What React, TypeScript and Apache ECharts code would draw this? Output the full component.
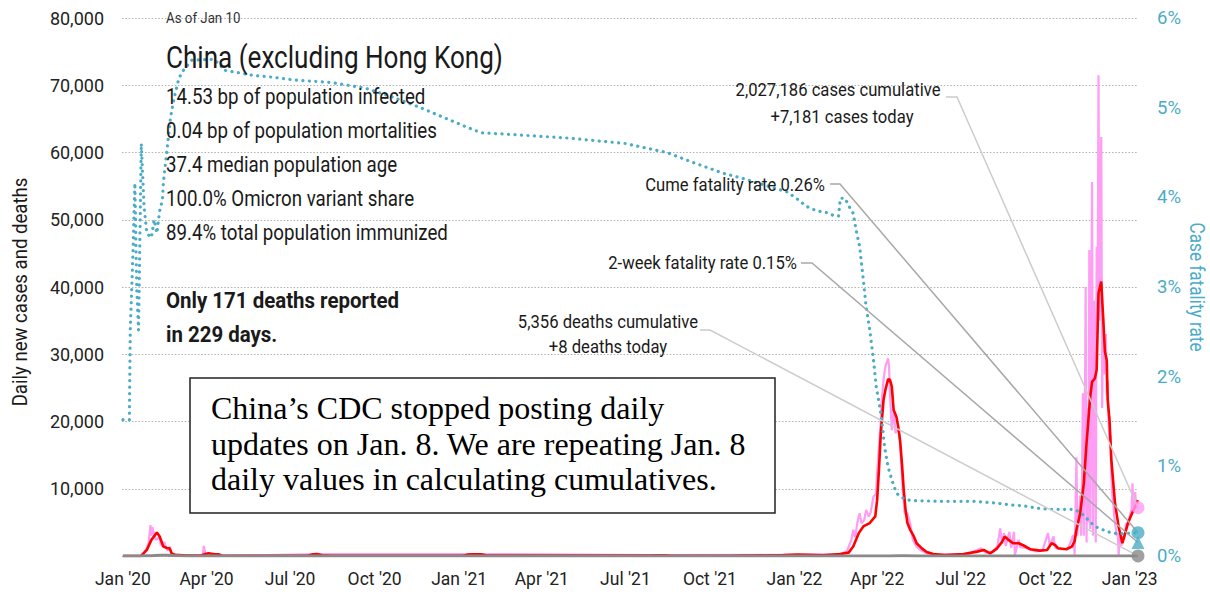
import React, { useEffect, useRef } from "react";
import * as echarts from "echarts";

// ---------- axis ticks ----------
const xTickDates = ["2020-01-01","2020-04-01","2020-07-01","2020-10-01","2021-01-01","2021-04-01","2021-07-01","2021-10-01","2022-01-01","2022-04-01","2022-07-01","2022-10-01","2023-01-01"];
const xTickLabels = ["Jan '20","Apr '20","Jul '20","Oct '20","Jan '21","Apr '21","Jul '21","Oct '21","Jan '22","Apr '22","Jul '22","Oct '22","Jan '23"];
const FIRST_DATE = "2020-01-01";
const LAST_DATE = "2023-01-10";

// ---------- headline numbers ----------
const casesCumulative = 2027186;
const casesToday = 7181;
const deathsCumulative = 5356;
const deathsToday = 8;
const cumeFatalityRate = 0.26;
const twoWeekFatalityRate = 0.15;
const deathsReported = 171;
const daysCount = 229;
const statLines = [
  "14.53 bp of population infected",
  "0.04 bp of population mortalities",
  "37.4 median population age",
  "100.0% Omicron variant share",
  "89.4% total population immunized",
];
const boxLines = [
  "China\u2019s CDC stopped posting daily",
  "updates on Jan. 8. We are repeating Jan. 8",
  "daily values in calculating cumulatives.",
];

// ---------- series: daily new cases (pink) ----------
const dailyCases: [string, number][] = [
  ["2020-01-01",0],["2020-01-20",0],["2020-01-24",400],["2020-01-27",1200],["2020-01-29",2000],["2020-01-31",4600],["2020-02-01",3000],["2020-02-02",4300],["2020-02-04",3200],["2020-02-06",2400],["2020-02-08",2600],["2020-02-10",2900],["2020-02-11",1800],["2020-02-13",1500],["2020-02-15",2100],["2020-02-17",1200],["2020-02-19",800],["2020-02-21",1400],["2020-02-23",300],["2020-02-27",200],["2020-03-05",100],["2020-03-20",50],["2020-03-28",100],["2020-03-29",1500],["2020-03-31",200],["2020-04-10",100],["2020-04-20",20],
  ["2020-07-30",300],["2021-01-12",300],["2021-08-05",150],["2022-01-10",200],
  ["2022-02-20",300],["2022-02-27",700],["2022-03-04",2400],["2022-03-06",3900],["2022-03-08",2800],["2022-03-11",5350],["2022-03-13",6350],["2022-03-15",4860],["2022-03-18",5350],["2022-03-20",6840],["2022-03-23",5850],["2022-03-25",6500],["2022-03-28",8820],["2022-03-31",9320],["2022-04-01",12300],["2022-04-03",16250],["2022-04-05",20200],["2022-04-06",23200],["2022-04-08",26200],["2022-04-10",28150],["2022-04-13",29400],["2022-04-14",28150],["2022-04-15",24200],["2022-04-17",18700],["2022-04-19",21700],["2022-04-21",18250],["2022-04-24",19200],["2022-04-26",16750],["2022-04-29",9800],["2022-05-01",6350],["2022-05-04",6350],["2022-05-07",4860],["2022-05-10",2380],["2022-05-14",1380],["2022-05-18",900],["2022-05-25",400],["2022-06-05",200],
  ["2022-07-10",300],["2022-07-19",900],["2022-07-23",1150],["2022-07-28",500],["2022-08-05",600],["2022-08-10",1500],["2022-08-13",4100],["2022-08-15",1800],["2022-08-17",3400],["2022-08-19",1500],["2022-08-23",3600],["2022-08-25",1200],["2022-08-28",3600],["2022-08-29",100],["2022-09-02",2400],["2022-09-04",1300],["2022-09-10",1200],["2022-09-20",700],["2022-09-28",800],["2022-10-04",3400],["2022-10-06",1600],["2022-10-10",2900],["2022-10-12",1200],["2022-10-18",1000],["2022-10-25",1100],["2022-10-27",1500],["2022-10-30",2500],["2022-10-31",3000],
  ["2022-11-01",3000],["2022-11-02",200],["2022-11-03",6800],["2022-11-04",14700],["2022-11-05",3000],["2022-11-06",7000],["2022-11-07",5000],["2022-11-08",9000],["2022-11-09",3000],["2022-11-10",11000],["2022-11-11",24200],["2022-11-12",3000],["2022-11-13",16000],["2022-11-14",40000],["2022-11-15",2000],["2022-11-16",22000],["2022-11-17",5000],["2022-11-18",45500],["2022-11-19",4000],["2022-11-20",30000],["2022-11-21",55600],["2022-11-22",3000],["2022-11-23",38000],["2022-11-24",29000],["2022-11-25",2000],["2022-11-26",46000],["2022-11-27",33000],["2022-11-28",71500],["2022-11-29",35000],["2022-11-30",50000],["2022-12-01",62300],["2022-12-02",22000],["2022-12-03",36000],["2022-12-04",31000],["2022-12-05",27000],["2022-12-06",33000],["2022-12-07",24000],["2022-12-08",26000],["2022-12-09",20000],["2022-12-10",17000],["2022-12-11",18000],["2022-12-12",12000],["2022-12-13",9000],["2022-12-14",8000],["2022-12-15",6000],["2022-12-16",5000],["2022-12-17",4000],["2022-12-18",3000],["2022-12-19",3400],["2022-12-20",0],["2022-12-21",3000],["2022-12-22",2000],["2022-12-23",1500],["2022-12-24",2500],["2022-12-25",3000],["2022-12-26",2500],["2022-12-27",3500],["2022-12-28",4900],["2022-12-29",4000],["2022-12-30",5000],["2022-12-31",4500],["2023-01-01",6000],["2023-01-02",6500],["2023-01-03",7000],["2023-01-04",10800],["2023-01-05",7000],["2023-01-06",8000],["2023-01-07",9500],["2023-01-08",7181],["2023-01-09",7181],["2023-01-10",7181],
];

// ---------- series: 7-day average of new cases (red) ----------
const avgCases: [string, number][] = [
  ["2020-01-01",0],["2020-01-20",0],["2020-01-21",50],["2020-01-27",900],["2020-02-01",2400],["2020-02-07",3500],["2020-02-10",2900],["2020-02-14",1400],["2020-02-18",1200],["2020-02-21",1100],["2020-02-23",400],["2020-02-27",150],["2020-03-03",150],["2020-03-09",50],["2020-03-25",50],["2020-03-30",250],["2020-04-03",400],["2020-04-10",250],["2020-04-14",250],["2020-04-18",30],
  ["2020-07-20",30],["2020-07-26",250],["2020-07-30",300],["2020-08-05",100],["2020-08-14",30],["2021-01-05",30],["2021-01-10",200],["2021-01-15",250],["2021-01-25",250],["2021-02-01",50],["2021-07-28",50],["2021-08-05",120],["2021-08-12",100],["2021-08-20",30],["2021-10-25",30],["2021-11-05",80],["2021-11-15",50],["2021-12-20",150],["2022-01-05",200],["2022-01-15",180],["2022-02-01",100],
  ["2022-02-20",300],["2022-03-01",500],["2022-03-06",1400],["2022-03-12",3400],["2022-03-17",4400],["2022-03-24",4900],["2022-03-30",5900],["2022-04-01",8300],["2022-04-03",12800],["2022-04-05",18200],["2022-04-08",23200],["2022-04-10",24700],["2022-04-13",26300],["2022-04-15",26200],["2022-04-17",25200],["2022-04-19",21700],["2022-04-22",20700],["2022-04-24",19200],["2022-04-26",17200],["2022-04-28",13800],["2022-04-30",9800],["2022-05-02",6800],["2022-05-04",4900],["2022-05-07",3900],["2022-05-11",2900],["2022-05-14",1900],["2022-05-20",1100],["2022-05-25",600],["2022-06-01",300],["2022-06-14",150],
  ["2022-07-04",300],["2022-07-19",650],["2022-07-26",900],["2022-08-02",400],["2022-08-09",1050],["2022-08-15",2100],["2022-08-18",2900],["2022-08-22",2400],["2022-08-27",1900],["2022-09-02",1900],["2022-09-07",1600],["2022-09-15",1000],["2022-09-25",800],["2022-10-03",900],["2022-10-08",1900],["2022-10-12",1600],["2022-10-15",1150],["2022-10-24",1000],["2022-10-30",1400],
  ["2022-11-02",2200],["2022-11-04",3900],["2022-11-08",6300],["2022-11-12",10800],["2022-11-15",16800],["2022-11-19",23700],["2022-11-21",25900],["2022-11-24",26400],["2022-11-26",27700],["2022-11-28",39100],["2022-12-01",40800],["2022-12-03",35600],["2022-12-05",30400],["2022-12-07",29100],["2022-12-08",23200],["2022-12-10",20200],["2022-12-12",14300],["2022-12-16",7800],["2022-12-20",4300],["2022-12-24",1900],["2022-12-30",4900],["2023-01-05",6800],["2023-01-10",8300],
];

// ---------- series: 7-day average of deaths (gray) ----------
const avgDeaths: [string, number][] = [
  ["2020-01-01",0],["2020-01-20",0],["2020-01-25",20],["2020-02-01",50],["2020-02-10",100],["2020-02-18",110],["2020-02-25",60],["2020-03-05",30],["2020-03-15",10],["2020-03-25",0],["2022-04-15",0],["2022-04-25",20],["2022-05-01",20],["2022-05-15",0],["2023-01-10",8],
];

// ---------- series: case fatality rate, % (teal, right axis) ----------
const fatalityRate: [string, number][] = [
  ["2020-01-01",1.52],["2020-01-08",1.52],["2020-01-09",2.52],["2020-01-12",3.4],["2020-01-14",4.16],["2020-01-16",3.0],["2020-01-18",2.52],["2020-01-21",4.6],["2020-01-24",3.9],["2020-01-27",3.6],["2020-02-01",3.55],["2020-02-04",3.75],["2020-02-07",3.6],["2020-02-10",3.85],["2020-02-13",3.97],["2020-02-14",4.16],["2020-02-18",4.53],["2020-02-22",4.9],["2020-02-26",5.12],["2020-03-02",5.33],["2020-03-07",5.42],["2020-03-16",5.53],["2020-04-08",5.54],["2020-04-16",5.48],["2020-04-19",5.42],["2020-04-30",5.4],["2020-05-22",5.36],["2020-06-12",5.34],["2020-07-04",5.31],["2020-08-15",5.28],["2020-09-20",5.22],["2020-10-20",5.12],["2020-11-20",5.0],["2020-12-20",4.87],["2021-01-10",4.78],["2021-01-25",4.72],["2021-03-01",4.7],["2021-05-01",4.66],["2021-07-01",4.6],["2021-08-15",4.5],["2021-09-15",4.38],["2021-10-15",4.27],["2021-11-06",4.21],["2021-12-05",4.12],["2021-12-24",4.06],["2022-01-03",3.99],["2022-01-14",3.9],["2022-01-25",3.85],["2022-02-05",3.83],["2022-02-12",3.8],["2022-02-18",3.79],["2022-02-20",3.99],["2022-02-25",3.99],["2022-03-02",3.89],["2022-03-06",3.82],["2022-03-09",3.64],["2022-03-13",3.45],["2022-03-15",3.26],["2022-03-17",3.08],["2022-03-20",2.78],["2022-03-24",2.52],["2022-03-28",2.19],["2022-03-31",1.89],["2022-04-04",1.66],["2022-04-06",1.52],["2022-04-09",1.22],["2022-04-13",0.99],["2022-04-17",0.85],["2022-04-22",0.7],["2022-04-30",0.64],["2022-05-07",0.62],["2022-06-06",0.61],["2022-07-14",0.61],["2022-08-09",0.59],["2022-08-24",0.57],["2022-09-07",0.56],["2022-09-25",0.53],["2022-10-10",0.52],["2022-10-31",0.52],["2022-11-08",0.49],["2022-11-13",0.44],["2022-11-19",0.38],["2022-11-24",0.33],["2022-12-01",0.3],["2022-12-08",0.27],["2022-12-18",0.25],["2022-12-25",0.25],["2023-01-10",0.26],
];

const SANS = "Roboto, 'Liberation Sans', sans-serif";
const SERIF = "'Liberation Serif', 'Times New Roman', serif";
const TEAL = "#4bacc6";
const PINK = "#ff9cf3";
const RED = "#ff0000";
const GRAY = "#8a8a8a";

function toDay(s: string): number {
  const [y, m, d] = s.split("-").map(Number);
  return Math.round((Date.UTC(y, m - 1, d) - Date.UTC(2020, 0, 1)) / 86400000);
}
const conv = (arr: [string, number][]) => arr.map(([d, v]) => [toDay(d), v]);
const fmt = (n: number) => n.toLocaleString("en-US");

function text(x: number, y: number, t: string, size: number, o: any = {}) {
  const align = o.align || "left";
  return {
    type: "text",
    x,
    y,
    rotation: o.rotation || 0,
    scaleX: o.sx || 1,
    z: 100,
    silent: true,
    style: {
      text: t,
      fontSize: size,
      fontFamily: o.family || SANS,
      fontWeight: o.weight || "normal",
      fill: o.color || "#1a1a1a",
      align,
      textAlign: align,
      verticalAlign: "middle",
      textVerticalAlign: "middle",
    },
  };
}

export default function App() {
  const ref = useRef<HTMLDivElement>(null);
  useEffect(() => {
    const el = ref.current!;
    const chart = echarts.init(el, null, { renderer: "svg" });
    const lastDay = toDay(LAST_DATE);
    const tickDays = xTickDates.map(toDay);

    const option: any = {
      animation: false,
      textStyle: { fontFamily: SANS },
      grid: { left: 122, right: 72, top: 18, bottom: 41, containLabel: false },
      xAxis: {
        type: "value",
        min: toDay(FIRST_DATE) - 1,
        max: lastDay,
        axisLine: { show: false },
        axisTick: { show: false, customValues: tickDays },
        splitLine: { show: false },
        axisLabel: {
          customValues: tickDays,
          formatter: (v: number) => {
            const i = tickDays.indexOf(Math.round(v));
            return i >= 0 ? xTickLabels[i] : "";
          },
          fontSize: 17.5,
          color: "#222",
          margin: 14,
        },
      },
      yAxis: [
        {
          type: "value",
          min: 0,
          max: 80000,
          interval: 10000,
          axisLine: { show: false },
          axisTick: { show: false },
          axisLabel: {
            formatter: (v: number) => (v === 0 ? "" : fmt(v)),
            fontSize: 18,
            color: "#222",
            margin: 18,
          },
          splitLine: { show: true, lineStyle: { color: "#b0b0b0", width: 1, type: [1.5, 1.8] } },
        },
        {
          type: "value",
          min: 0,
          max: 6,
          interval: 1,
          position: "right",
          axisLine: { show: false },
          axisTick: { show: false },
          axisLabel: {
            formatter: (v: number) => v + "%",
            fontSize: 18.5,
            color: TEAL,
            margin: 19,
          },
          splitLine: { show: false },
        },
      ],
      series: [
        {
          name: "Daily cases",
          type: "line",
          data: conv(dailyCases),
          yAxisIndex: 0,
          symbol: "none",
          z: 2,
          lineStyle: { color: PINK, width: 2.2 },
        },
        {
          name: "7-day average cases",
          type: "line",
          data: conv(avgCases),
          yAxisIndex: 0,
          symbol: "none",
          z: 3,
          lineStyle: { color: RED, width: 2.6 },
        },
        {
          name: "Deaths",
          type: "line",
          data: conv(avgDeaths),
          yAxisIndex: 0,
          symbol: "none",
          z: 3,
          lineStyle: { color: GRAY, width: 3 },
        },
        {
          name: "Case fatality rate",
          type: "line",
          data: conv(fatalityRate),
          yAxisIndex: 1,
          symbol: "none",
          z: 4,
          lineStyle: { color: TEAL, width: 3.2, type: [0.1, 6.4], cap: "round" },
        },
        {
          name: "Cases today",
          type: "scatter",
          yAxisIndex: 0,
          data: [[lastDay, casesToday]],
          symbol: "circle",
          symbolSize: 13,
          itemStyle: { color: PINK },
          z: 10,
        },
        {
          name: "Cume fatality",
          type: "scatter",
          yAxisIndex: 1,
          data: [[lastDay, cumeFatalityRate]],
          symbol: "circle",
          symbolSize: 13,
          itemStyle: { color: TEAL },
          z: 10,
        },
        {
          name: "2-week fatality",
          type: "scatter",
          yAxisIndex: 1,
          data: [[lastDay, twoWeekFatalityRate]],
          symbol: "triangle",
          symbolSize: 13,
          itemStyle: { color: TEAL },
          z: 10,
        },
        {
          name: "Deaths today",
          type: "scatter",
          yAxisIndex: 0,
          data: [[lastDay, deathsToday]],
          symbol: "circle",
          symbolSize: 13,
          itemStyle: { color: GRAY },
          z: 10,
        },
      ],
    };
    chart.setOption(option);

    const pCases = chart.convertToPixel({ seriesIndex: 4 }, [lastDay, casesToday]) as number[];
    const pCume = chart.convertToPixel({ seriesIndex: 5 }, [lastDay, cumeFatalityRate]) as number[];
    const pTwo = chart.convertToPixel({ seriesIndex: 6 }, [lastDay, twoWeekFatalityRate]) as number[];
    const pDeaths = chart.convertToPixel({ seriesIndex: 7 }, [lastDay, deathsToday]) as number[];

    const connector = (pts: number[][], color: string) => ({
      type: "polyline",
      z: 5,
      silent: true,
      shape: { points: pts },
      style: { stroke: color, lineWidth: 1.5, fill: null },
    });

    const A = 0.9; // horizontal condensing for annotation text
    const graphic: any[] = [
      connector([[946, 97], [957, 97], pCases], "#cccccc"),
      connector([[830, 184], [840, 184], pCume], "#a8a8a8"),
      connector([[801, 263], [812, 263], pTwo], "#a8a8a8"),
      connector([[700, 330], [710, 330], pDeaths], "#cccccc"),
      text(166, 18, "As of Jan 10", 14, { color: "#333", sx: 0.95 }),
      text(166, 58, "China (excluding Hong Kong)", 30.5, { sx: 0.855 }),
      ...statLines.map((s, i) => text(166, 97 + i * 34, s, 21.5, { sx: 0.87 })),
      text(166, 300, `Only ${deathsReported} deaths reported`, 22, { weight: "bold", sx: 0.93 }),
      text(166, 334, `in ${daysCount} days.`, 22, { weight: "bold", sx: 0.93 }),
      {
        type: "rect",
        z: 100,
        silent: true,
        shape: { x: 190, y: 378, width: 585, height: 135 },
        style: { fill: "#ffffff", stroke: "#222222", lineWidth: 1.5 },
      },
      ...boxLines.map((s, i) => text(211, 408 + i * 35.5, s, 32, { family: SERIF, color: "#000" })),
      text(838, 90, `${fmt(casesCumulative)} cases cumulative`, 18.5, { align: "center", sx: A }),
      text(842, 117, `+${fmt(casesToday)} cases today`, 18.5, { align: "center", sx: A }),
      text(825, 185, `Cume fatality rate ${cumeFatalityRate.toFixed(2)}%`, 18.5, { align: "right", sx: A }),
      text(797, 263, `2-week fatality rate ${twoWeekFatalityRate.toFixed(2)}%`, 18.5, { align: "right", sx: A }),
      text(608, 322, `${fmt(deathsCumulative)} deaths cumulative`, 18.5, { align: "center", sx: A }),
      text(608, 347, `+${deathsToday} deaths today`, 18.5, { align: "center", sx: A }),
      text(20, 292, "Daily new cases and deaths", 20, { align: "center", rotation: Math.PI / 2, sx: 0.93 }),
      text(1196, 287, "Case fatality rate", 20, { align: "center", rotation: -Math.PI / 2, color: TEAL, sx: 0.86 }),
    ];

    chart.setOption({ graphic });
    return () => chart.dispose();
  }, []);

  return (
    <div
      ref={ref}
      style={{ position: "fixed", left: 0, top: 0, width: 1210, height: 597, background: "#fff" }}
    />
  );
}
